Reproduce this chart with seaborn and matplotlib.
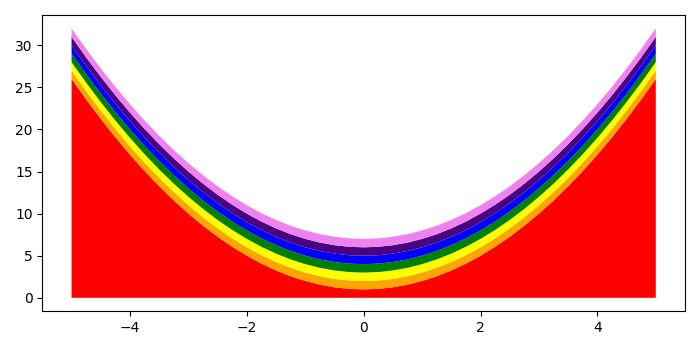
import numpy as np
import matplotlib
matplotlib.use("Agg")
import matplotlib.pyplot as plt
import seaborn as sns

# x positions (step 0.25)
x_values = [-5.0, -4.75, -4.5, -4.25, -4.0, -3.75, -3.5, -3.25, -3.0, -2.75, -2.5,
            -2.25, -2.0, -1.75, -1.5, -1.25, -1.0, -0.75, -0.5, -0.25, 0.0,
            0.25, 0.5, 0.75, 1.0, 1.25, 1.5, 1.75, 2.0, 2.25, 2.5,
            2.75, 3.0, 3.25, 3.5, 3.75, 4.0, 4.25, 4.5, 4.75, 5.0]

# red (bottom) band heights
red_values = [26.0, 23.56, 21.25, 19.06, 17.0, 15.06, 13.25, 11.56, 10.0, 8.56, 7.25,
              6.06, 5.0, 4.06, 3.25, 2.56, 2.0, 1.56, 1.25, 1.06, 1.0,
              1.06, 1.25, 1.56, 2.0, 2.56, 3.25, 4.06, 5.0, 6.06, 7.25,
              8.56, 10.0, 11.56, 13.25, 15.06, 17.0, 19.06, 21.25, 23.56, 26.0]

# thickness of the upper bands (orange .. violet)
band_names = ["orange", "yellow", "green", "blue", "indigo", "violet"]
band_thickness = [1, 1, 1, 1, 1, 1]

colors = ["red", "orange", "yellow", "green", "blue", "indigo", "violet"]

x = np.array(x_values)
series = [np.array(red_values)] + [np.full(len(x_values), t, dtype=float) for t in band_thickness]

sns.set_style("ticks")
plt.rcParams.update(matplotlib.rcParamsDefault)

fig, ax = plt.subplots(figsize=(7, 3.5), dpi=100)
ax.stackplot(x, *series, colors=colors)
ax.set_xticks([-4, -2, 0, 2, 4])
ax.set_yticks([0, 5, 10, 15, 20, 25, 30])
ax.set_ylim(-1.6, 33.6)
fig.tight_layout()
fig.savefig("out.png", dpi=100)
